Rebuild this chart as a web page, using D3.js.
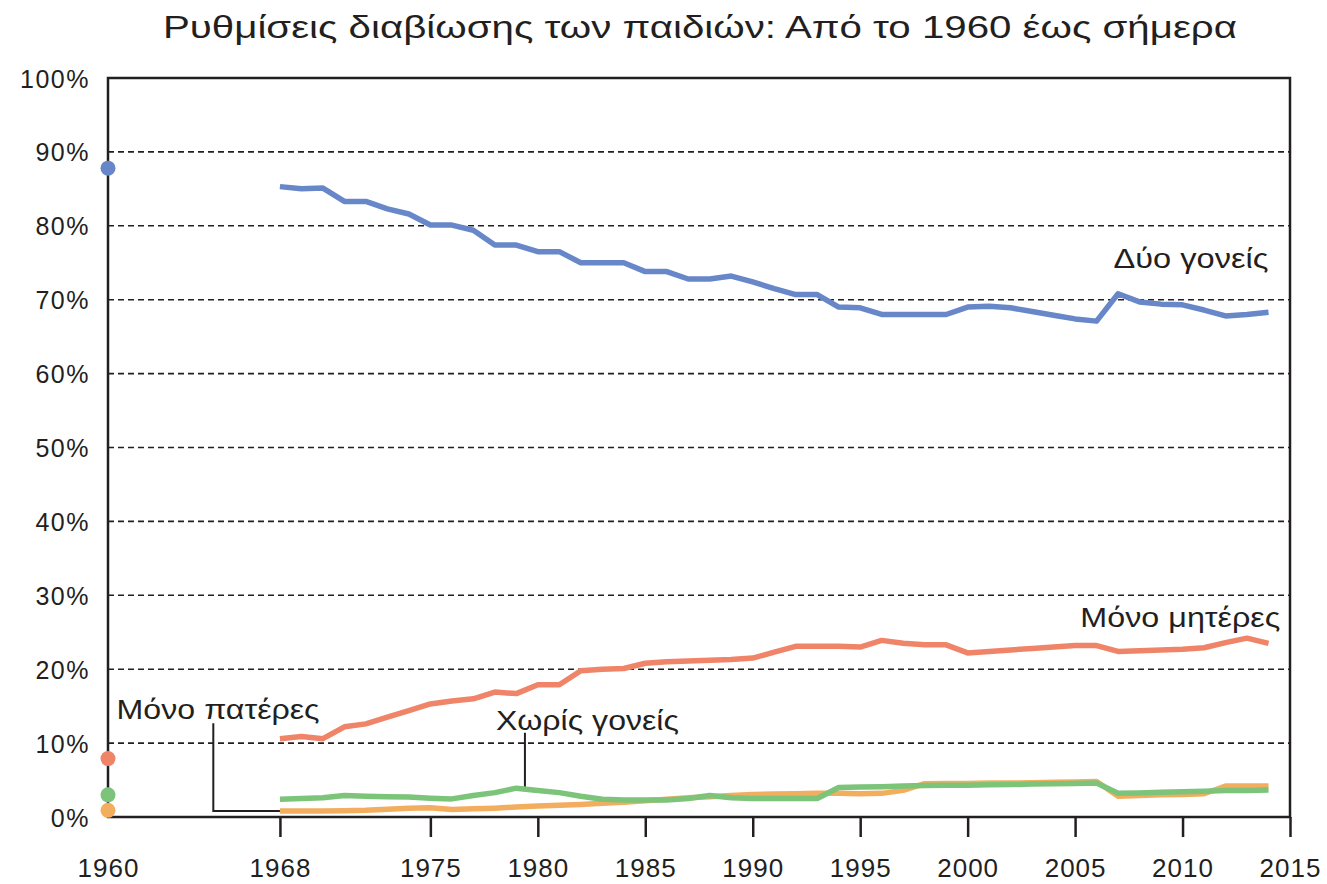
<!DOCTYPE html>
<meta charset="utf-8">
<script src="https://cdn.jsdelivr.net/npm/d3@7"></script>
<style>
  body { margin: 0; background: #fff; }
  text { font-family: "Liberation Sans", Arial, sans-serif; fill: #231f20; }
</style>
<div id="my_dataviz"></div>
<script>

// ---- data ----
var years = d3.range(1968, 2015)
var tickYears = [1960, 1968, 1975, 1980, 1985, 1990, 1995, 2000, 2005, 2010, 2015]
var yTicks = [0, 10, 20, 30, 40, 50, 60, 70, 80, 90, 100]

var seriesNames = ["Δύο γονείς", "Μόνο μητέρες", "Χωρίς γονείς", "Μόνο πατέρες"]

// value in 1960 (single dot on the axis)
var start1960 = [87.8, 7.9, 3.0, 0.9]

var twoParents = [85.3, 85.0, 85.1, 83.3, 83.3, 82.3, 81.6, 80.1, 80.1, 79.4,
  77.4, 77.4, 76.5, 76.5, 75.0, 75.0, 75.0, 73.8, 73.8, 72.8,
  72.8, 73.2, 72.4, 71.5, 70.7, 70.7, 69.0, 68.9, 68.0, 68.0,
  68.0, 68.0, 69.0, 69.1, 68.9, 68.4, 67.9, 67.4, 67.1, 70.8,
  69.7, 69.4, 69.3, 68.6, 67.8, 68.0, 68.3]

var motherOnly = [10.6, 10.9, 10.6, 12.2, 12.6, 13.5, 14.4, 15.3, 15.7, 16.0,
  16.9, 16.7, 17.9, 17.9, 19.8, 20.0, 20.1, 20.8, 21.0, 21.1,
  21.2, 21.3, 21.5, 22.3, 23.1, 23.1, 23.1, 23.0, 23.9, 23.5,
  23.3, 23.3, 22.2, 22.4, 22.6, 22.8, 23.0, 23.2, 23.2, 22.4,
  22.5, 22.6, 22.7, 22.9, 23.6, 24.2, 23.5]

var noParent = [2.4, 2.5, 2.6, 2.9, 2.8, 2.75, 2.7, 2.55, 2.45, 2.9,
  3.3, 3.9, 3.6, 3.3, 2.8, 2.4, 2.3, 2.3, 2.3, 2.5,
  2.9, 2.6, 2.5, 2.5, 2.5, 2.5, 4.0, 4.05, 4.1, 4.2,
  4.25, 4.3, 4.3, 4.35, 4.4, 4.45, 4.5, 4.55, 4.6, 3.2,
  3.25, 3.35, 3.4, 3.5, 3.6, 3.6, 3.65]

var fatherOnly = [0.8, 0.8, 0.8, 0.85, 0.9, 1.05, 1.2, 1.25, 1.0, 1.1,
  1.2, 1.35, 1.5, 1.6, 1.7, 1.85, 2.0, 2.2, 2.4, 2.6,
  2.75, 2.9, 3.05, 3.1, 3.15, 3.2, 3.2, 3.15, 3.2, 3.6,
  4.5, 4.55, 4.55, 4.6, 4.6, 4.65, 4.7, 4.75, 4.8, 2.8,
  2.9, 3.0, 3.05, 3.15, 4.2, 4.2, 4.2]

var colors = ["#6787c9", "#f08468", "#7cc47a", "#f3ad5e"]

// ---- layout ----
var W = 1327, H = 884
var margin = {top: 78, right: 37, bottom: 67, left: 108}
var width = W - margin.left - margin.right,
    height = H - margin.top - margin.bottom

var svg = d3.select("#my_dataviz")
  .append("svg")
    .attr("width", W)
    .attr("height", H)

var g = svg.append("g")
    .attr("transform", "translate(" + margin.left + "," + margin.top + ")")

var x = d3.scaleLinear().domain([1960, 2015]).range([0, width])
var y = d3.scaleLinear().domain([0, 100]).range([height, 0])

// title (stretched to the width it has in the original)
svg.append("text")
  .attr("x", 163)
  .attr("y", 38)
  .attr("textLength", 1074)
  .attr("lengthAdjust", "spacingAndGlyphs")
  .style("font-size", "31px")
  .text("Ρυθμίσεις διαβίωσης των παιδιών: Από το 1960 έως σήμερα")

// dashed gridlines
g.append("g")
  .selectAll("line")
  .data(yTicks.filter(function(d){ return d > 0 && d < 100 }))
  .enter()
  .append("line")
    .attr("x1", 0)
    .attr("x2", width)
    .attr("y1", function(d){ return y(d) })
    .attr("y2", function(d){ return y(d) })
    .attr("stroke", "#231f20")
    .attr("stroke-width", 1.6)
    .attr("stroke-dasharray", "6,4")

// Y axis labels
var yAxis = g.append("g")
  .call(d3.axisLeft(y).tickValues(yTicks).tickSize(0).tickPadding(18).tickFormat(function(d){ return d + "%" }))
yAxis.select(".domain").remove()
yAxis.selectAll("text")
  .style("font-size", "25px")
  .style("letter-spacing", "1.5px")
  .attr("dy", "0.36em")

// X axis
var xAxis = g.append("g")
  .attr("transform", "translate(0," + height + ")")
  .call(d3.axisBottom(x).tickValues(tickYears).tickSize(20).tickPadding(22).tickFormat(d3.format("d")))
xAxis.select(".domain").remove()
xAxis.selectAll("line")
  .attr("stroke", "#231f20")
  .attr("stroke-width", 2.5)
  .filter(function(d){ return d == 1960 }).remove()
xAxis.selectAll("text")
  .style("font-size", "26px")
  .style("letter-spacing", "1px")

// frame
g.append("rect")
  .attr("x", 0)
  .attr("y", 0)
  .attr("width", width)
  .attr("height", height)
  .attr("fill", "none")
  .attr("stroke", "#231f20")
  .attr("stroke-width", 2.5)

// leader lines for labels
var leader = d3.line().x(function(d){ return x(d[0]) }).y(function(d){ return y(d[1]) })
g.append("path")
  .attr("d", leader([[1964.9, 12.7], [1964.9, 0.8], [1968, 0.8]]))
  .attr("fill", "none")
  .attr("stroke", "#231f20")
  .attr("stroke-width", 2)
g.append("path")
  .attr("d", leader([[1979.4, 11.4], [1979.4, 3.8]]))
  .attr("fill", "none")
  .attr("stroke", "#231f20")
  .attr("stroke-width", 2)

// lines, drawn back to front
var allSeries = [twoParents, motherOnly, fatherOnly, noParent]
var allColors = [colors[0], colors[1], colors[3], colors[2]]
var line = d3.line()
  .x(function(d, i){ return x(years[i]) })
  .y(function(d){ return y(d) })

g.selectAll(".series")
  .data(allSeries)
  .enter()
  .append("path")
    .attr("class", "series")
    .attr("d", function(d){ return line(d) })
    .attr("fill", "none")
    .attr("stroke", function(d, i){ return allColors[i] })
    .attr("stroke-width", 5.5)
    .attr("stroke-linejoin", "round")

// 1960 dots
g.selectAll(".dot")
  .data(start1960)
  .enter()
  .append("circle")
    .attr("cx", x(1960))
    .attr("cy", function(d){ return y(d) })
    .attr("r", 7.5)
    .attr("fill", function(d, i){ return colors[i] })

// series labels (with the widths they have in the original)
var labels = [
  {name: seriesNames[0], yr: 2014.0, v: 74.3, w: 155, end: true},
  {name: seriesNames[1], yr: 2014.55, v: 25.7, w: 200, end: true},
  {name: seriesNames[2], yr: 1978.05, v: 11.8, w: 183, end: false},
  {name: seriesNames[3], yr: 1960.4, v: 13.2, w: 203, end: false}
]
g.selectAll(".lbl")
  .data(labels)
  .enter()
  .append("text")
    .attr("class", "lbl")
    .attr("x", function(d){ return d.end ? x(d.yr) - d.w : x(d.yr) })
    .attr("y", function(d){ return y(d.v) })
    .attr("textLength", function(d){ return d.w })
    .attr("lengthAdjust", "spacingAndGlyphs")
    .style("font-size", "28px")
    .text(function(d){ return d.name })

</script>
